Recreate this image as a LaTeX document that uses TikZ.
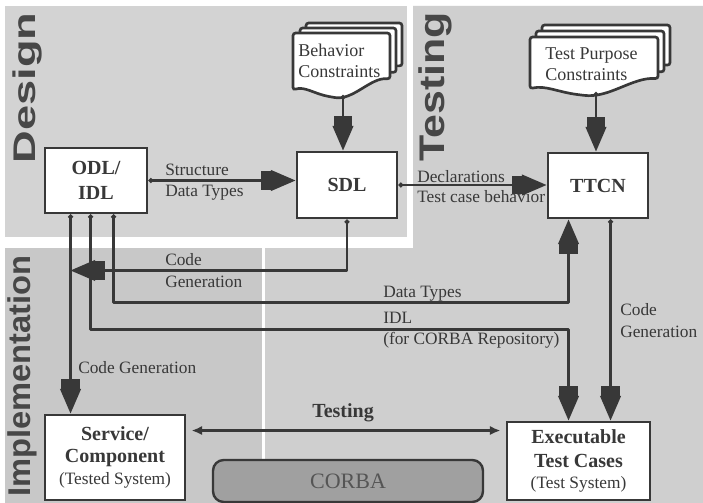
\documentclass[tikz,border=0pt]{standalone}
\usepackage{fontspec}
\setmainfont{Liberation Serif}
\newfontfamily\titlefont{Liberation Sans}
\usetikzlibrary{arrows.meta,calc}
\definecolor{ink}{HTML}{383838}
\definecolor{designbg}{HTML}{D3D3D3}
\definecolor{testbg}{HTML}{CFCFCF}
\definecolor{implbg}{HTML}{C8C8C8}
\definecolor{titlegray}{HTML}{474747}
\definecolor{corbafill}{HTML}{A0A0A0}
\definecolor{corbatext}{HTML}{555555}
\newcommand\docshape[4]{%
  \begin{scope}[shift={(#1,#2)},xscale=#3/100,yscale=#4/64]
    \draw[docline] (0,0) -- (100,0) -- (100,46)
      .. controls (80,44) and (62,68) .. (40,64)
      .. controls (22,61) and (12,53) .. (0,57) -- cycle;
  \end{scope}}
\tikzset{
  box/.style={draw=ink, line width=2.2pt, fill=white, align=center,
    font=\rmfamily\fontsize{15}{19}\selectfont\bfseries, text=ink, inner sep=2pt},
  docline/.style={draw=ink, line width=2pt, fill=white, rounded corners=2pt},
  lab/.style={anchor=west, inner sep=0pt, text=ink, font=\rmfamily\fontsize{13}{15}\selectfont},
  doclab/.style={anchor=west, inner sep=0pt, text=ink, font=\rmfamily\fontsize{13.5}{15}\selectfont},
  conn/.style={draw=ink, line width=1.6pt, line join=round,
    {Circle[length=3.5pt]}-{Rectangle[length=7.5pt,width=14pt,sep=0pt]Triangle[length=18.5pt,width=15.5pt,sep=0pt]}},
  tconn/.style={draw=ink, line width=1.6pt, {Latex[length=8pt,width=7pt]}-{Latex[length=8pt,width=7pt]}},
  regtitle/.style={rotate=90, inner sep=0pt, text=titlegray, font=\titlefont\bfseries},
}
\begin{document}
\begin{tikzpicture}[x=0.75pt,y=-0.75pt]
\useasboundingbox (0,0) rectangle (703,503);
\fill[white] (0,0) rectangle (703,503);
% regions
\fill[designbg] (5,6) rectangle (407,237);
\fill[testbg] (413,6) -- (703,6) -- (703,503) -- (265,503) -- (265,248) -- (413,248) -- cycle;
\fill[implbg] (5,248) rectangle (262,503);
% region titles
\node[regtitle] (tDesign) at (27,88) {\resizebox*{113pt}{22pt}{Design}};
\node[regtitle] (tTesting) at (435,87) {\resizebox*{112pt}{25pt}{Testing}};
\node[regtitle] (tImpl) at (22,376) {\resizebox*{181pt}{22pt}{Implementation}};
% document stacks
\docshape{306}{23}{96}{60}
\docshape{300}{28}{96}{62}
\docshape{293}{33}{97}{64}
\node[doclab] (bc1) at (298,50) {Behavior};
\node[doclab] (bc2) at (298,72) {Constraints};
\coordinate (bcb) at (343,95);
\docshape{542}{25}{128}{56}
\docshape{536}{31}{128}{57}
\docshape{530}{37}{128}{58}
\node[doclab] (tp1) at (545,56) {Test Purpose};
\node[doclab] (tp2) at (545,75) {Constraints};
\coordinate (tpb) at (596,92);
% boxes
\node[box, minimum width=76.5pt, minimum height=48.75pt] (ODL) at (96,180.5) {ODL/\\IDL};
\node[box, minimum width=75pt, minimum height=49.5pt] (SDL) at (347,185) {SDL};
\node[box, minimum width=75pt, minimum height=48.75pt] (TTCN) at (598,185.5) {TTCN};
\node[box, minimum width=105pt, minimum height=63.75pt, font=\rmfamily\fontsize{15}{16.5}\selectfont\bfseries] (Service) at (115,457.5)
  {Service/\\Component\\{\normalfont\fontsize{13}{15}\selectfont (Tested System)}};
\node[box, minimum width=107.25pt, minimum height=58.5pt, font=\rmfamily\fontsize{15}{18}\selectfont\bfseries] (Exec) at (578.5,461)
  {Executable\\Test Cases\\[-2pt]{\normalfont\fontsize{13}{15}\selectfont (Test System)}};
\node[draw=ink, line width=1.8pt, fill=corbafill, rounded corners=8pt, minimum width=202.5pt, minimum height=31.5pt,
  text=corbatext, font=\rmfamily\fontsize{16.5}{18}\selectfont] (CORBA) at (348,481) {CORBA};
% labels
\node[lab] (l1) at (165,170) {Structure};
\node[lab] (l2) at (165,193) {Data Types};
\node[lab] (l3) at (417,177) {Declarations};
\node[lab] (l4) at (417,197) {Test case behavior};
\node[lab] (l5) at (165,260) {Code};
\node[lab] (l6) at (165,282) {Generation};
\node[lab] (l7) at (78,368) {Code Generation};
\node[lab] (l8) at (383,294) {Data Types};
\node[lab] (l9) at (383,318) {IDL};
\node[lab] (l10) at (383,340) {(for CORBA Repository)};
\node[lab] (l11) at (620,310) {Code};
\node[lab] (l12) at (620,332) {Generation};
\node[inner sep=0pt, text=ink, font=\rmfamily\fontsize{15}{17}\selectfont\bfseries] (lt) at (343,413) {Testing};
% helper coordinates
\coordinate (o1) at ($(ODL.south west)+(27,0)$);
\coordinate (o2) at ($(ODL.south west)+(47,0)$);
\coordinate (o3) at ($(ODL.south west)+(70,0)$);
\coordinate (t1) at ($(TTCN.south west)+(64,0)$);
\coordinate (k1) at ($(TTCN.south west)+(22,83)$);
\coordinate (k2) at ($(TTCN.south west)+(22,110)$);
\coordinate (k0) at ($(o1)+(0,56)$);
\coordinate (ts) at ($(Service.north east)+(5,17)$);
% connectors
\draw[conn] (ODL.east) -- (ODL.east -| SDL.west);
\draw[conn] (bcb) -- (bcb |- SDL.north);
\draw[conn] (SDL.east) -- (SDL.east -| TTCN.west);
\draw[conn] (tpb) -- (tpb |- TTCN.north);
\draw[conn] (SDL.south) |- (k0);
\draw[conn] (o1) -- (o1 |- Service.north);
\draw[conn] (o3) |- (k1) -- (k1 |- TTCN.south);
\draw[conn] (o2) |- (k2) -- (k2 |- Exec.north);
\draw[conn] (t1) -- (t1 |- Exec.north);
\draw[tconn, shorten >=3.75pt] (ts) -- (ts -| Exec.west);
\end{tikzpicture}
\end{document}
